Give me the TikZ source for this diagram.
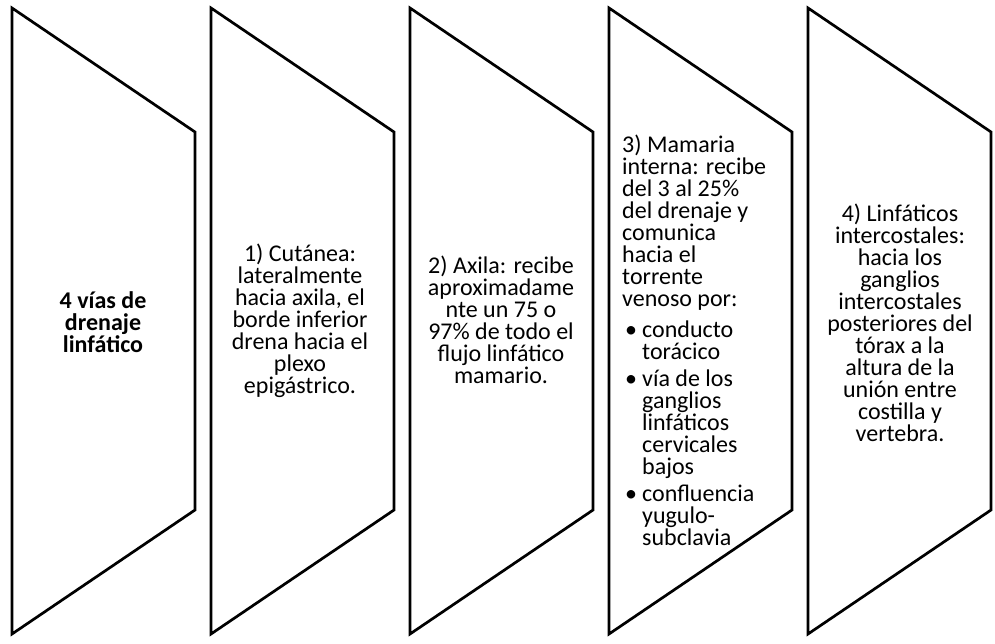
\documentclass[tikz,border=0pt]{standalone}
\usepackage{fontspec}
\setmainfont{Carlito}
\usetikzlibrary{positioning}

\newcommand{\bitem}{\makebox[20pt][l]{\hspace{3pt}\textbullet}}
\newcommand{\bcont}{\hspace*{20pt}}

\begin{document}
\begin{tikzpicture}[
  x=1pt,y=1pt,
  panel/.style={draw=black,line width=2.7pt,line join=miter},
  txt/.style={font=\fontsize{24}{22}\selectfont,align=center,inner sep=0pt},
  lst/.style={txt,align=left},
]
\useasboundingbox (0,0) rectangle (995,644);

% --- panels ---
\foreach \i in {0,...,4}{
  \pgfmathsetmacro\L{12+199*\i}
  \draw[panel] (\L,636) -- ++(183,-124) -- ++(0,-378) -- ++(-183,-124) -- cycle;
}

% --- texts ---
\node[txt,font=\fontsize{24}{22}\selectfont\bfseries] (title) at (103,322)
  {4 vías de\\drenaje\\linfático};
\node[txt] (cutanea) at (300,323)
  {1) Cutánea:\\lateralmente\\hacia axila, el\\borde inferior\\drena hacia el\\plexo\\epigástrico.};
\node[txt] (axila) at (501,324)
  {2) Axila: recibe\\aproximadame\\nte un 75 o\\97\% de todo el\\flujo linfático\\mamario.};
\node[lst,anchor=north west] (mamaria) at (622,509)
  {3) Mamaria\\interna: recibe\\del 3 al 25\%\\del drenaje y\\comunica\\hacia el\\torrente\\venoso por:\\[9pt]
   \bitem conducto\\\bcont torácico\\[5pt]
   \bitem vía de los\\\bcont ganglios\\\bcont linfáticos\\\bcont cervicales\\\bcont bajos\\[5pt]
   \bitem confluencia\\\bcont yugulo-\\\bcont subclavia};
\node[txt] (intercos) at (900,321)
  {4) Linfáticos\\intercostales:\\hacia los\\ganglios\\intercostales\\posteriores del\\tórax a la\\altura de la\\unión entre\\costilla y\\vertebra.};

\end{tikzpicture}
\end{document}
